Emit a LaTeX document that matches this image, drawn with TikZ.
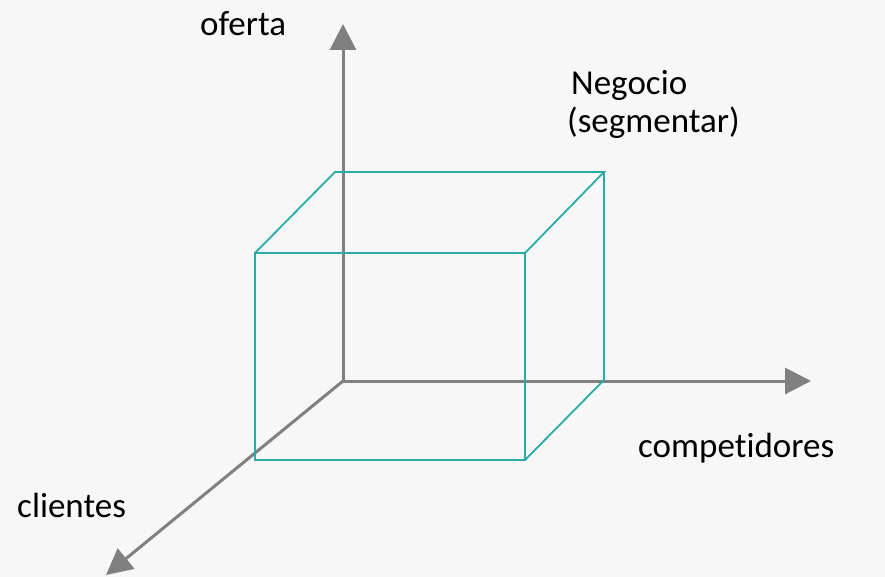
\documentclass[tikz,border=0pt]{standalone}
\usepackage{fontspec}
\setmainfont[RawFeature={-liga;-clig;-dlig;-calt}]{Carlito}
\usetikzlibrary{arrows.meta}
\definecolor{bg}{HTML}{F7F7F7}
\definecolor{axisgray}{HTML}{808080}
\definecolor{cubeteal}{HTML}{2AABA8}
\tikzset{
  axisline/.style={draw=axisgray, line width=3pt, -{Triangle[length=26pt,width=26pt]}},
  cubeline/.style={draw=cubeteal, line width=1.8pt, line join=miter},
  lbl/.style={anchor=base west, inner sep=0pt, font=\fontsize{35}{40}\selectfont, text=black}
}
\begin{document}
\begin{tikzpicture}[x=1pt,y=-1pt]
\fill[bg] (0,0) rectangle (885,577);
\useasboundingbox (0,0) rectangle (885,577);
% axes
\coordinate (O) at (343,381);
\coordinate (up) at (343,24);
\coordinate (right) at (811,381);
\coordinate (down) at (106,575);
\draw[axisline] (O) -- (up);
\draw[axisline] (O) -- (right);
\draw[axisline] (O) -- (down);
% cube
\coordinate (f1) at (255,253);
\coordinate (f2) at (525,253);
\coordinate (f3) at (525,460);
\coordinate (f4) at (255,460);
\coordinate (b1) at (335,172);
\coordinate (b2) at (604,172);
\coordinate (b3) at (604,380);
\draw[cubeline] (f1) -- (f2) -- (f3) -- (f4) -- cycle;
\draw[cubeline] (f1) -- (b1) -- (b2) -- (f2);
\draw[cubeline] (b2) -- (b3) -- (f3);
% labels
\node[lbl] (oferta) at (200,36) {oferta};
\node[lbl] (neg) at (571,95) {Negocio};
\node[lbl] (seg) at (567,133) {(segmentar)};
\node[lbl] (comp) at (638,457) {competidores};
\node[lbl] (cli) at (17,517) {clientes};
\end{tikzpicture}
\end{document}
